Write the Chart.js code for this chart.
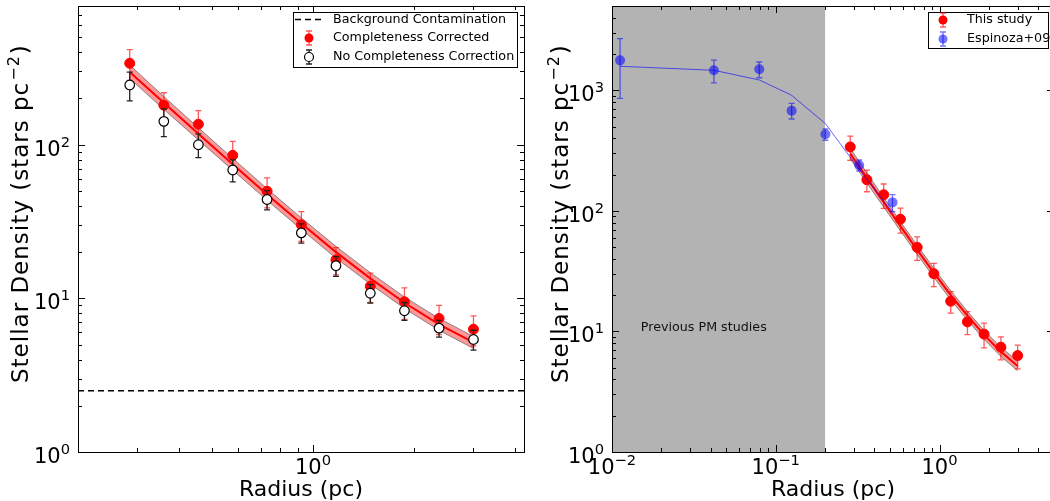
<!DOCTYPE html>
<html>
<head>
<meta charset="utf-8">
<script src="https://cdn.jsdelivr.net/npm/chart.js@4.4.1/dist/chart.umd.min.js"></script>
<style>
  html, body { margin: 0; padding: 0; background: #fff; overflow: hidden; width: 1050px; height: 501px; }
  #leftBox { position: absolute; left: 0; top: 0; width: 530px; height: 501px; }
  #rightBox { position: absolute; left: 540px; top: 0; width: 520px; height: 501px; }
  canvas { display: block; }
</style>
</head>
<body>
<div id="leftBox"><canvas id="leftChart" width="530" height="501" style="width:530px;height:501px"></canvas></div>
<div id="rightBox"><canvas id="rightChart" width="520" height="501" style="width:520px;height:501px"></canvas></div>
<script>
// radial profile, this study (pc / stars pc^-2)
const radius = [0.285, 0.36, 0.456, 0.577, 0.73, 0.923, 1.17, 1.48, 1.87, 2.37, 3.0];
const densCorr = [339, 181, 136, 85.3, 49.8, 30.1, 17.8, 12.0, 9.5, 7.4, 6.3];
const errCorr = [77, 37, 31, 20, 11, 6.6, 3.6, 2.6, 2.2, 1.6, 1.4];
const densRaw = [245, 142, 100, 68.5, 44, 26.7, 16.3, 10.8, 8.3, 6.4, 5.4];
const errRaw = [52, 29, 17.6, 11.2, 6.3, 3.8, 2.4, 1.5, 1.1, 0.8, 0.8];

// fitted profile and its confidence band
const fitDens = [298, 187.7, 117.9, 74.6, 47.5, 30.7, 20.0, 13.5, 9.36, 6.77, 5.17];
const fitUpper = [330, 206, 129, 81.5, 51.8, 33.4, 21.8, 14.7, 10.2, 7.4, 5.65];
const fitLower = [270, 170, 107.5, 68.3, 43.5, 28.1, 18.3, 12.4, 8.6, 6.2, 4.72];
const background = 2.5;

// Espinoza+09
const espRadius = [0.0112, 0.0419, 0.0793, 0.125, 0.201, 0.323, 0.516];
const espDens = [1771, 1465, 1493, 678, 432, 239, 117.5];
const espErr = [915, 314, 223, 100, 47, 25, 19];
const espModel = [1581, 1465, 1217, 909, 529, 221, 97];

// region covered by earlier proper-motion work
const pmRange = [0.01, 0.2];
const pmNote = { text: 'Previous PM studies', x: 0.015, y: 10 };

const leftXRange = [0.2, 4.24];
const leftYRange = [1, 800];
const rightXRange = [0.01, 5];
const rightYRange = [1, 5000];
const leftXTicks = [1];
const leftYTicks = [1, 10, 100];
const rightXTicks = [0.01, 0.1, 1];
const rightYTicks = [1, 10, 100, 1000];
const xTitle = 'Radius (pc)';
const yTitle = ['Stellar Density (stars pc', '\u22122', ')'];

Chart.defaults.font.family = "'DejaVu Sans', sans-serif";
Chart.defaults.color = '#000';

const pts = (xs, ys) => xs.map((v, i) => ({ x: v, y: ys[i] }));

function logTickValues(min, max) {
  const out = [];
  for (let e = Math.floor(Math.log10(min)); e <= Math.ceil(Math.log10(max)); e++) {
    for (let m = 1; m <= 9; m++) {
      const v = m * Math.pow(10, e);
      if (v >= min * 0.999 && v <= max * 1.001) out.push({ v: v, major: m === 1 });
    }
  }
  return out;
}

// "10" with a raised exponent, like the mathtext tick labels
function drawPow(ctx, v, x, y, align) {
  const e = Math.round(Math.log10(v));
  const sup = e < 0 ? '\u2212' + (-e) : String(e);
  ctx.font = "21px 'DejaVu Sans'";
  const wb = ctx.measureText('10').width;
  ctx.font = "14.7px 'DejaVu Sans'";
  const ws = ctx.measureText(sup).width;
  const x0 = align === 'center' ? x - (wb + ws) / 2 : x - (wb + ws);
  ctx.font = "21px 'DejaVu Sans'";
  ctx.fillText('10', x0, y);
  ctx.font = "14.7px 'DejaVu Sans'";
  ctx.fillText(sup, x0 + wb, y - 9);
}

const errorBarPlugin = {
  id: 'errorBars',
  beforeDatasetDraw(chart, args) {
    const ds = chart.data.datasets[args.index];
    if (!ds.errors) return;
    const ctx = chart.ctx, xs = chart.scales.x, ys = chart.scales.y;
    ctx.save();
    ctx.strokeStyle = ds.errorColor;
    ctx.lineWidth = 1.3;
    ds.data.forEach((p, i) => {
      const px = xs.getPixelForValue(p.x);
      const top = ys.getPixelForValue(p.y + ds.errors[i]);
      const bot = ys.getPixelForValue(p.y - ds.errors[i]);
      ctx.beginPath();
      ctx.moveTo(px, top); ctx.lineTo(px, bot);
      ctx.moveTo(px - 3, top); ctx.lineTo(px + 3, top);
      ctx.moveTo(px - 3, bot); ctx.lineTo(px + 3, bot);
      ctx.stroke();
    });
    ctx.restore();
  }
};

const shadePlugin = {
  id: 'shade',
  beforeDatasetsDraw(chart, args, opts) {
    if (!opts.range) return;
    const { ctx, chartArea: a, scales: { x, y } } = chart;
    const x0 = x.getPixelForValue(opts.range[0]);
    const x1 = x.getPixelForValue(opts.range[1]);
    ctx.save();
    ctx.fillStyle = '#b3b3b3';
    ctx.fillRect(x0, a.top, x1 - x0, a.bottom - a.top);
    ctx.fillStyle = '#111';
    ctx.font = "12.7px 'DejaVu Sans'";
    ctx.textBaseline = 'alphabetic';
    ctx.fillText(opts.note.text, x.getPixelForValue(opts.note.x), y.getPixelForValue(opts.note.y));
    ctx.restore();
  }
};

const framePlugin = {
  id: 'frame',
  afterDatasetsDraw(chart, args, opts) {
    const { ctx, chartArea: a, scales: { x, y } } = chart;
    ctx.save();
    ctx.strokeStyle = '#000';
    ctx.lineWidth = 1;
    ctx.strokeRect(Math.round(a.left) + 0.5, Math.round(a.top) + 0.5, Math.round(a.right - a.left), Math.round(a.bottom - a.top));
    ctx.beginPath();
    logTickValues(x.min, x.max).forEach(t => {
      const px = Math.round(x.getPixelForValue(t.v)) + 0.5;
      const len = t.major ? 7 : 4;
      ctx.moveTo(px, a.bottom); ctx.lineTo(px, a.bottom - len);
      ctx.moveTo(px, a.top); ctx.lineTo(px, a.top + len);
    });
    logTickValues(y.min, y.max).forEach(t => {
      const py = Math.round(y.getPixelForValue(t.v)) + 0.5;
      const len = t.major ? 7 : 4;
      ctx.moveTo(a.left, py); ctx.lineTo(a.left + len, py);
      ctx.moveTo(a.right, py); ctx.lineTo(a.right - len, py);
    });
    ctx.stroke();

    // tick labels
    ctx.fillStyle = '#000';
    ctx.textAlign = 'left';
    ctx.textBaseline = 'alphabetic';
    opts.xLabels.forEach(v => drawPow(ctx, v, x.getPixelForValue(v), a.bottom + 21.5, 'center'));
    opts.yLabels.forEach(v => drawPow(ctx, v, a.left - 8, y.getPixelForValue(v) + 11, 'right'));

    // y title with superscript unit
    ctx.translate(opts.yTitleX, 383);
    ctx.rotate(-Math.PI / 2);
    ctx.letterSpacing = '1px';
    ctx.font = "23px 'DejaVu Sans'";
    ctx.fillText(yTitle[0], 0, 0);
    let w = ctx.measureText(yTitle[0]).width;
    ctx.font = "16px 'DejaVu Sans'";
    ctx.fillText(yTitle[1], w + 1, -9);
    w += ctx.measureText(yTitle[1]).width + 2;
    ctx.font = "23px 'DejaVu Sans'";
    ctx.fillText(yTitle[2], w, 0);
    ctx.restore();
  }
};

const boxLegendPlugin = {
  id: 'boxLegend',
  afterDraw(chart, args, opts) {
    if (!opts.items) return;
    const ctx = chart.ctx;
    const b = opts.box;
    ctx.save();
    ctx.fillStyle = '#fff';
    ctx.fillRect(b[0], b[1], b[2], b[3]);
    ctx.strokeStyle = '#000';
    ctx.lineWidth = 1;
    ctx.strokeRect(b[0] + 0.5, b[1] + 0.5, b[2], b[3]);
    ctx.font = "12.7px 'DejaVu Sans'";
    ctx.textBaseline = 'middle';
    opts.items.forEach(it => {
      const mx = opts.markerX, my = it.y;
      if (it.kind === 'dash') {
        ctx.strokeStyle = '#000';
        ctx.lineWidth = 1.5;
        ctx.setLineDash([6, 4]);
        ctx.beginPath();
        ctx.moveTo(mx - 14, my); ctx.lineTo(mx + 13, my);
        ctx.stroke();
        ctx.setLineDash([]);
      } else {
        ctx.strokeStyle = it.errColor;
        ctx.lineWidth = 1.3;
        ctx.beginPath();
        ctx.moveTo(mx, my - 7); ctx.lineTo(mx, my + 7);
        ctx.moveTo(mx - 3, my - 7); ctx.lineTo(mx + 3, my - 7);
        ctx.moveTo(mx - 3, my + 7); ctx.lineTo(mx + 3, my + 7);
        ctx.stroke();
        ctx.beginPath();
        ctx.arc(mx, my, 4.5, 0, Math.PI * 2);
        ctx.fillStyle = it.fill;
        ctx.fill();
        if (it.stroke) { ctx.strokeStyle = it.stroke; ctx.lineWidth = 1.2; ctx.stroke(); }
      }
      ctx.fillStyle = '#000';
      ctx.fillText(it.label, opts.textX, my);
    });
    ctx.restore();
  }
};

Chart.register(errorBarPlugin, shadePlugin, framePlugin, boxLegendPlugin);

const bandFill = 'rgba(255, 0, 0, 0.4)';
const bandEdge = 'rgba(110, 110, 110, 0.8)';

function bandDatasets(order) {
  return [
    { data: pts(radius, fitUpper), showLine: true, pointRadius: 0, borderWidth: 1, borderColor: bandEdge, backgroundColor: bandFill, fill: '+1', order: order + 2 },
    { data: pts(radius, fitLower), showLine: true, pointRadius: 0, borderWidth: 1, borderColor: bandEdge, fill: false, order: order + 1 },
    { data: pts(radius, fitDens), showLine: true, pointRadius: 0, borderWidth: 2, borderColor: '#ff0000', fill: false, order: order }
  ];
}

function zeroPad(s) {
  s.paddingTop = 0; s.paddingBottom = 0; s.paddingLeft = 0; s.paddingRight = 0;
}
function axisX(range, ticks) {
  return {
    type: 'logarithmic', min: range[0], max: range[1], bounds: 'data',
    grid: { display: false }, border: { display: false },
    afterBuildTicks: s => { s.ticks = ticks.map(v => ({ value: v })); },
    afterFit: s => { s.height = 49; zeroPad(s); },
    ticks: { display: false },
    title: { display: true, text: xTitle, font: { size: 22, lineHeight: 1 }, color: '#000', padding: { top: 0, bottom: 0 } }
  };
}
function axisY(range, ticks, width) {
  return {
    type: 'logarithmic', min: range[0], max: range[1], bounds: 'data',
    grid: { display: false }, border: { display: false },
    afterBuildTicks: s => { s.ticks = ticks.map(v => ({ value: v })); },
    afterFit: s => { s.width = width; zeroPad(s); },
    ticks: { display: false },
    title: { display: false }
  };
}

new Chart(document.getElementById('leftChart'), {
  type: 'scatter',
  data: {
    datasets: bandDatasets(8).concat([
      { data: [{ x: leftXRange[0], y: background }, { x: leftXRange[1], y: background }], showLine: true, pointRadius: 0, borderWidth: 1.5, borderColor: '#000', borderDash: [6, 4], order: 7 },
      { data: pts(radius, densCorr), errors: errCorr, errorColor: 'rgba(255, 0, 0, 0.65)', pointRadius: 5, pointBackgroundColor: '#ff0000', pointBorderColor: '#ff0000', pointBorderWidth: 1, order: 3 },
      { data: pts(radius, densRaw), errors: errRaw, errorColor: '#222', pointRadius: 4.8, pointBackgroundColor: '#fff', pointBorderColor: '#000', pointBorderWidth: 1.2, order: 2 }
    ])
  },
  options: {
    responsive: false, animation: false, events: [],
    layout: { padding: { top: 5, right: 5, left: 0, bottom: 0 } },
    plugins: {
      legend: { display: false }, tooltip: { enabled: false },
      shade: {},
      frame: { xLabels: leftXTicks, yLabels: leftYTicks, yTitleX: 28 },
      boxLegend: {
        box: [293, 12, 224, 55], markerX: 309, textX: 333,
        items: [
          { kind: 'dash', y: 19.5, label: 'Background Contamination' },
          { kind: 'point', y: 38, fill: '#ff0000', errColor: 'rgba(255, 0, 0, 0.65)', label: 'Completeness Corrected' },
          { kind: 'point', y: 57, fill: '#fff', stroke: '#000', errColor: '#222', label: 'No Completeness Correction' }
        ]
      }
    },
    scales: { x: axisX(leftXRange, leftXTicks), y: axisY(leftYRange, leftYTicks, 78) }
  }
});

new Chart(document.getElementById('rightChart'), {
  type: 'scatter',
  data: {
    datasets: [
      { data: pts(espRadius, espModel), showLine: true, pointRadius: 0, borderWidth: 1, borderColor: 'rgba(0, 0, 255, 0.6)', fill: false, order: 2 },
      { data: pts(espRadius, espDens), errors: espErr, errorColor: 'rgba(0, 0, 255, 0.55)', pointRadius: 5, pointBackgroundColor: 'rgba(0, 0, 255, 0.55)', pointBorderWidth: 0, order: 1 }
    ].concat(bandDatasets(8)).concat([
      { data: pts(radius, densCorr), errors: errCorr, errorColor: 'rgba(255, 0, 0, 0.65)', pointRadius: 5, pointBackgroundColor: '#ff0000', pointBorderColor: '#ff0000', pointBorderWidth: 1, order: 3 }
    ])
  },
  options: {
    responsive: false, animation: false, events: [],
    layout: { padding: { top: 5, right: 1, left: 0, bottom: 0 } },
    plugins: {
      legend: { display: false }, tooltip: { enabled: false },
      shade: { range: pmRange, note: pmNote },
      frame: { xLabels: rightXTicks, yLabels: rightYTicks, yTitleX: 28 },
      boxLegend: {
        box: [388, 12, 120, 36], markerX: 403, textX: 427,
        items: [
          { kind: 'point', y: 20, fill: '#ff0000', errColor: 'rgba(255, 0, 0, 0.65)', label: 'This study' },
          { kind: 'point', y: 39, fill: 'rgba(0, 0, 255, 0.55)', errColor: 'rgba(0, 0, 255, 0.55)', label: 'Espinoza+09' }
        ]
      }
    },
    scales: { x: axisX(rightXRange, rightXTicks), y: axisY(rightYRange, rightYTicks, 72) }
  }
});
</script>
</body>
</html>
